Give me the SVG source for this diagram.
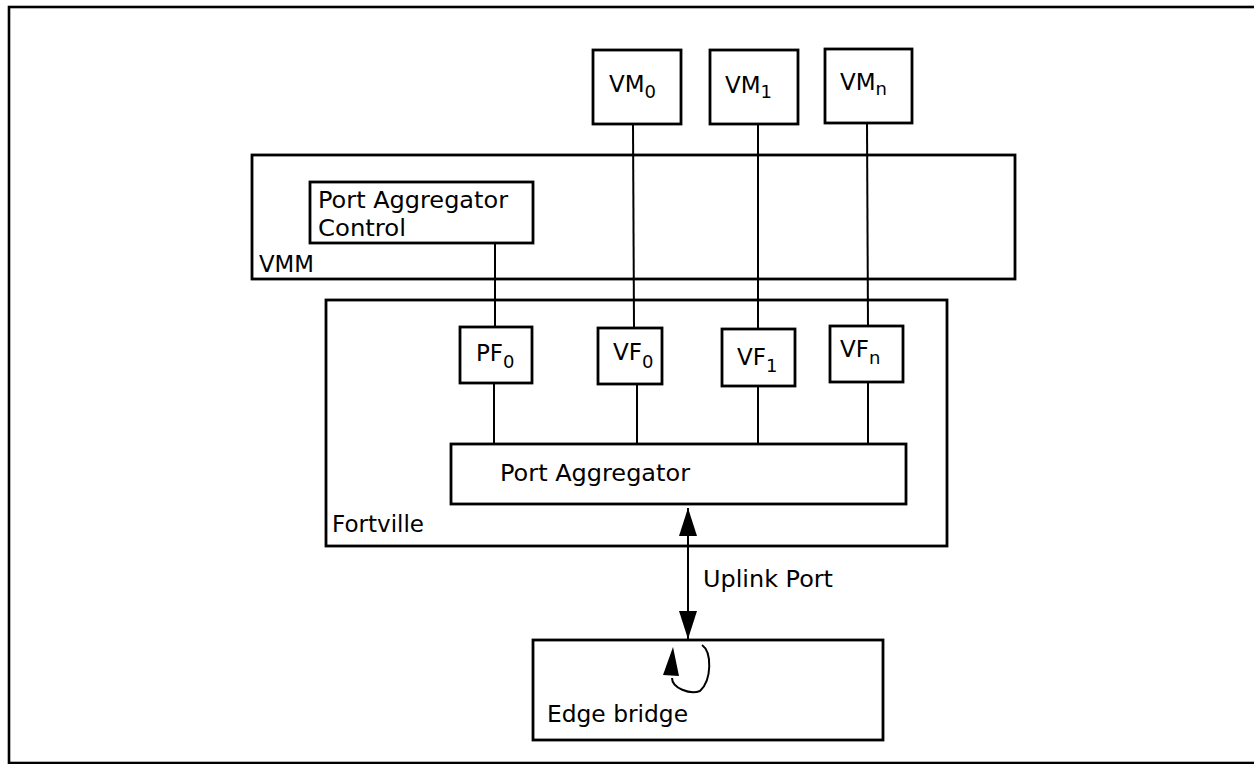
<svg xmlns="http://www.w3.org/2000/svg" width="1254" height="764" viewBox="0 0 1254 764">
<style>
.box{fill:#fff;stroke:#000;stroke-width:2.8}
.frame{fill:none;stroke:#000;stroke-width:2.6}
.ln{stroke:#000;stroke-width:2;fill:none}
text{font-family:"DejaVu Sans","Verdana",sans-serif;font-size:23px;fill:#000}
.big{font-size:23px}
.sub{font-size:18px}
</style>
<defs>
<marker id="ah" viewBox="0 0 28 18" refX="28" refY="9" markerWidth="28" markerHeight="18" markerUnits="userSpaceOnUse" orient="auto-start-reverse">
<path d="M0,0 L28,9 L0,18 Z" fill="#000"/>
</marker>
</defs>
<rect class="frame" x="9" y="7" width="1250" height="756"/>
<g id="vmm"><rect class="box" x="252" y="155" width="763" height="124"/><text x="259" y="272" textLength="55" lengthAdjust="spacingAndGlyphs">VMM</text></g>
<g id="fortville"><rect class="box" x="326" y="300" width="621" height="246"/><text x="332" y="532" textLength="92" lengthAdjust="spacingAndGlyphs">Fortville</text></g>
<g id="pac"><rect class="box" x="310" y="182" width="223" height="61"/><text x="318" y="208" textLength="190" lengthAdjust="spacingAndGlyphs">Port Aggregator</text><text x="318" y="236" textLength="88" lengthAdjust="spacingAndGlyphs">Control</text></g>
<g id="vm0"><rect class="box" x="593" y="50" width="88" height="74"/><text class="big" x="609" y="92">VM<tspan class="sub" dy="6">0</tspan></text></g>
<g id="vm1"><rect class="box" x="710" y="50" width="88" height="74"/><text class="big" x="725" y="93">VM<tspan class="sub" dy="5">1</tspan></text></g>
<g id="vmn"><rect class="box" x="825" y="49" width="87" height="74"/><text class="big" x="840" y="90">VM<tspan class="sub" dy="5">n</tspan></text></g>
<g id="pf0"><rect class="box" x="460" y="327" width="72" height="56"/><text class="big" x="476" y="361">PF<tspan class="sub" dy="7">0</tspan></text></g>
<g id="vf0"><rect class="box" x="598" y="328" width="64" height="56"/><text class="big" x="613" y="360">VF<tspan class="sub" dy="8">0</tspan></text></g>
<g id="vf1"><rect class="box" x="722" y="329" width="73" height="57"/><text class="big" x="737" y="365">VF<tspan class="sub" dy="7">1</tspan></text></g>
<g id="vfn"><rect class="box" x="830" y="326" width="73" height="56"/><text class="big" x="840" y="357">VF<tspan class="sub" dy="7">n</tspan></text></g>
<g id="pa"><rect class="box" x="451" y="444" width="455" height="60"/><text x="500" y="481" textLength="190" lengthAdjust="spacingAndGlyphs">Port Aggregator</text></g>
<g id="edge"><rect class="box" x="533" y="640" width="350" height="100"/><text x="547" y="722" textLength="141" lengthAdjust="spacingAndGlyphs">Edge bridge</text></g>
<g id="connectors">
<line class="ln" x1="495" y1="243" x2="495" y2="327"/>
<line class="ln" x1="633" y1="124" x2="634" y2="328"/>
<line class="ln" x1="758" y1="124" x2="758" y2="329"/>
<line class="ln" x1="867" y1="123" x2="868" y2="326"/>
<line class="ln" x1="494" y1="383" x2="494" y2="444"/>
<line class="ln" x1="637" y1="384" x2="637" y2="444"/>
<line class="ln" x1="758" y1="386" x2="758" y2="444"/>
<line class="ln" x1="868" y1="382" x2="868" y2="444"/>
<line class="ln" x1="688" y1="508" x2="688" y2="639" stroke-width="2.6" marker-start="url(#ah)" marker-end="url(#ah)"/>
<text x="703" y="587" textLength="130" lengthAdjust="spacingAndGlyphs">Uplink Port</text>
<path class="ln" stroke-width="1.5" d="M702,645 C712,652 712,680 700,691 C690,695 672,688 672,678"/>
<path d="M673,647 L663,675 L679,676 Z" fill="#000"/>
</g>
</svg>
